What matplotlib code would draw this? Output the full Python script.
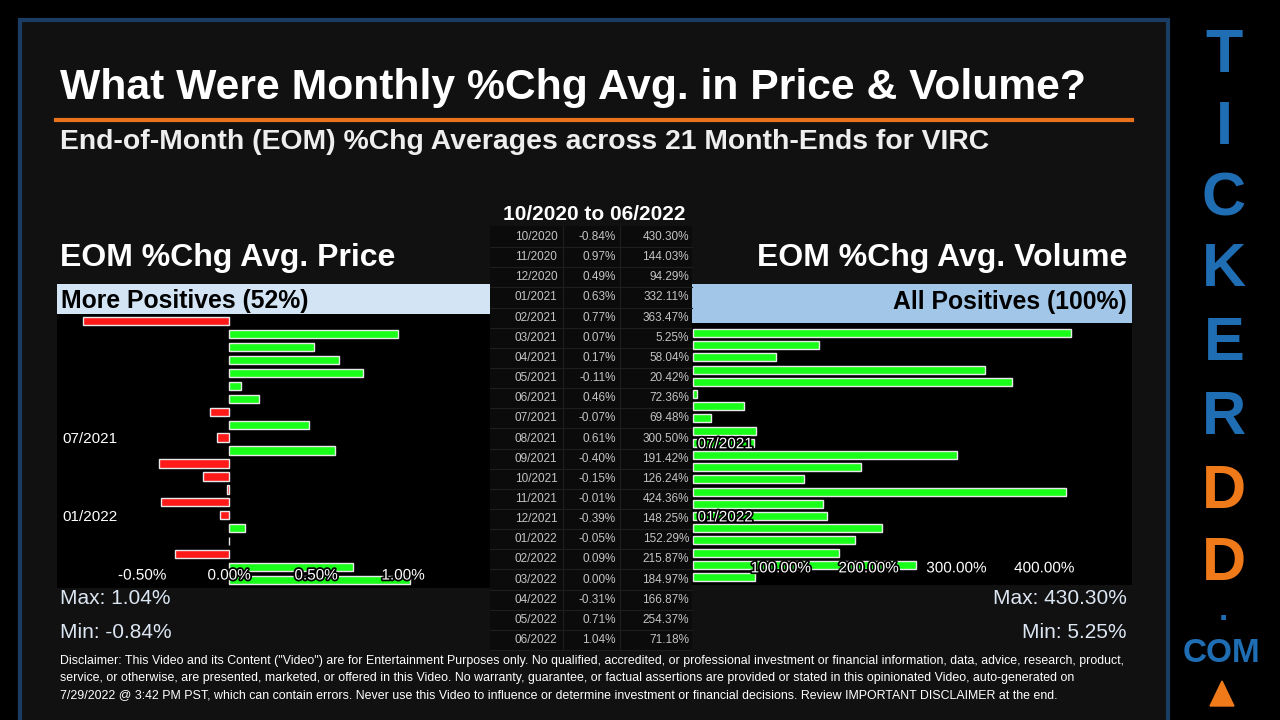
import matplotlib
matplotlib.use("Agg")
import matplotlib.pyplot as plt
import matplotlib.patheffects as pe
from matplotlib.patches import Rectangle, Polygon

W, H = 1280, 720

# ---- data ----
months = ["10/2020", "11/2020", "12/2020", "01/2021", "02/2021", "03/2021", "04/2021",
          "05/2021", "06/2021", "07/2021", "08/2021", "09/2021", "10/2021", "11/2021",
          "12/2021", "01/2022", "02/2022", "03/2022", "04/2022", "05/2022", "06/2022"]
price_chg = [-0.84, 0.97, 0.49, 0.63, 0.77, 0.07, 0.17, -0.11, 0.46, -0.07, 0.61,
             -0.40, -0.15, -0.01, -0.39, -0.05, 0.09, 0.00, -0.31, 0.71, 1.04]
volume_chg = [430.30, 144.03, 94.29, 332.11, 363.47, 5.25, 58.04, 20.42, 72.36, 69.48,
              300.50, 191.42, 126.24, 424.36, 148.25, 152.29, 215.87, 184.97, 166.87,
              254.37, 71.18]
price_ticks = [-0.5, 0.0, 0.5, 1.0]
volume_ticks = [100, 200, 300, 400]
label_months = ["07/2021", "01/2022"]

plt.rcParams["font.family"] = ["Liberation Sans", "DejaVu Sans"]

fig = plt.figure(figsize=(12.8, 7.2), dpi=100, facecolor="black")

# background axes in pixel coordinates
bg = fig.add_axes([0, 0, 1, 1])
bg.set_xlim(0, W)
bg.set_ylim(H, 0)
bg.axis("off")
bg.add_patch(Rectangle((20, 20), 1148, 720, facecolor="#111111", edgecolor="#1b3d63", lw=3))
bg.plot([56, 1132], [120, 120], color="#e8731c", lw=3)

bg.text(60, 88, "What Were Monthly %Chg Avg. in Price & Volume?", color="white",
        fontsize=30.7, fontweight="bold", va="center", ha="left")
bg.text(60, 142, "End-of-Month (EOM) %Chg Averages across 21 Month-Ends for VIRC", color="#eeeeee",
        fontsize=20.4, fontweight="bold", va="center", ha="left")
bg.text(60, 258, "EOM %Chg Avg. Price", color="white", fontsize=23, fontweight="bold", va="center")
bg.text(1127, 258, "EOM %Chg Avg. Volume", color="white", fontsize=23, fontweight="bold",
        va="center", ha="right")
bg.text(594, 215, "10/2020 to 06/2022", color="white", fontsize=15, fontweight="bold",
        va="center", ha="center")

# header bands
n_pos = sum(1 for v in price_chg if v > 0)
bg.add_patch(Rectangle((57, 284), 433, 30, facecolor="#d3e4f4", edgecolor="none"))
bg.text(61, 301, f"More Positives ({round(100 * n_pos / len(price_chg))}%)", color="black",
        fontsize=17.8, fontweight="bold", va="center")
bg.add_patch(Rectangle((692, 284), 440, 39, facecolor="#a2c6e8", edgecolor="none"))
bg.text(1127, 302, "All Positives (100%)", color="black", fontsize=17.8, fontweight="bold",
        va="center", ha="right")

# table
bg.add_patch(Rectangle((490, 226), 202, 424, facecolor="#0b0b0b", edgecolor="none"))
row_h = 20.15
tcol = "#c4c4c4"
for i, (m, p, v) in enumerate(zip(months, price_chg, volume_chg)):
    yc = 237 + i * row_h
    bg.plot([490, 692], [yc + row_h / 2, yc + row_h / 2], color="#1e1e1e", lw=0.8)
    bg.text(536, yc, m, color=tcol, fontsize=8.5, ha="center", va="center")
    bg.text(616, yc, f"{p:.2f}%", color=tcol, fontsize=8.5, ha="right", va="center")
    bg.text(689, yc, f"{v:.2f}%", color=tcol, fontsize=8.5, ha="right", va="center")
for xl in (563, 620):
    bg.plot([xl, xl], [226, 650], color="#1e1e1e", lw=0.8)

# max / min
mcol = "#dce6f2"
bg.text(60, 598, f"Max: {max(price_chg):.2f}%", color=mcol, fontsize=15, va="center")
bg.text(60, 632, f"Min: {min(price_chg):.2f}%", color=mcol, fontsize=15, va="center")
bg.text(1127, 598, f"Max: {max(volume_chg):.2f}%", color=mcol, fontsize=15, va="center", ha="right")
bg.text(1127, 632, f"Min: {min(volume_chg):.2f}%", color=mcol, fontsize=15, va="center", ha="right")

disclaimer = [
    'Disclaimer: This Video and its Content ("Video") are for Entertainment Purposes only. No qualified, accredited, or professional investment or financial information, data, advice, research, product,',
    "service, or otherwise, are presented, marketed, or offered in this Video. No warranty, guarantee, or factual assertions are provided or stated in this opinionated Video, auto-generated on",
    "7/29/2022 @ 3:42 PM PST, which can contain errors. Never use this Video to influence or determine investment or financial decisions. Review IMPORTANT DISCLAIMER at the end.",
]
for k, line in enumerate(disclaimer):
    bg.text(60, 661 + k * 17, line, color="white", fontsize=8.9, va="center")

# logo
logo = [("T", 57), ("I", 128), ("C", 200), ("K", 271), ("E", 345), ("R", 418), ("D", 492), ("D", 564)]
for ch, yy in logo:
    col = "#f07a1a" if ch == "D" else "#1f6db3"
    bg.text(1224, yy, ch, color=col, fontsize=44, fontweight="bold", ha="center", va="center")
bg.text(1223, 612, ".", color="#1f6db3", fontsize=24, fontweight="bold", ha="center", va="center")
bg.text(1222, 654, "COM", color="#1f6db3", fontsize=24, fontweight="bold", ha="center", va="center")
bg.add_patch(Polygon([[1210, 706], [1234, 706], [1222, 681]], closed=True, facecolor="#f07a1a",
                     edgecolor="#f07a1a"))

stroke = [pe.withStroke(linewidth=2.5, foreground="black")]


def px_axes(x0, y0, x1, y1):
    return fig.add_axes([x0 / W, 1 - y1 / H, (x1 - x0) / W, (y1 - y0) / H])


# price chart
ax1 = px_axes(57, 314, 490, 588)
ax1.set_facecolor("black")
ypos = list(range(len(months)))
ax1.barh(ypos, price_chg, height=0.64,
         color=["#ff1a1a" if v < 0 else "#1aff1a" for v in price_chg],
         edgecolor="#e8e8e8", linewidth=1)
ax1.set_xlim(-0.989, 1.5)
ax1.set_ylim(20.62, -0.55)
ax1.set_xticks(price_ticks)
ax1.set_xticklabels([f"{t:.2f}%" for t in price_ticks])
ax1.tick_params(axis="x", direction="in", length=0, pad=-14, labelsize=11, labelcolor="white")
ax1.set_yticks([months.index(m) for m in label_months])
ax1.set_yticklabels(label_months)
ax1.tick_params(axis="y", direction="in", length=0, pad=-4, labelsize=11, labelcolor="white")
for lbl in ax1.get_yticklabels():
    lbl.set_ha("left")
for lbl in ax1.get_xticklabels():
    lbl.set_path_effects(stroke)
for s in ax1.spines.values():
    s.set_visible(False)

# volume chart
ax2 = px_axes(692, 323, 1132, 585)
ax2.set_facecolor("black")
ax2.barh(ypos, volume_chg, height=0.66, color="#1aff1a", edgecolor="#e8e8e8", linewidth=1)
ax2.set_xlim(-1, 500)
ax2.set_ylim(20.66, -0.82)
ax2.set_xticks(volume_ticks)
ax2.set_xticklabels([f"{t:.2f}%" for t in volume_ticks])
ax2.tick_params(axis="x", direction="in", length=0, pad=-17, labelsize=11, labelcolor="white")
ax2.set_yticks([months.index(m) for m in label_months])
ax2.set_yticklabels(label_months)
ax2.tick_params(axis="y", direction="in", length=0, pad=-4, labelsize=11, labelcolor="white")
for lbl in ax2.get_yticklabels():
    lbl.set_ha("left")
    lbl.set_path_effects(stroke)
for lbl in ax2.get_xticklabels():
    lbl.set_path_effects(stroke)
for s in ax2.spines.values():
    s.set_visible(False)

fig.savefig("out.png", dpi=100, facecolor="black")
